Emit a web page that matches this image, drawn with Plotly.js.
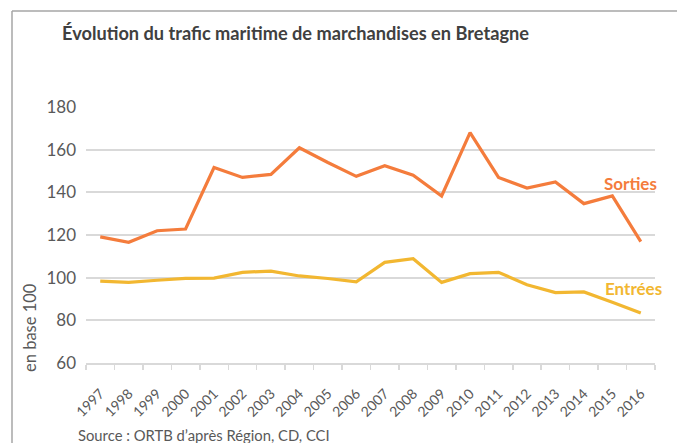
<!DOCTYPE html>
<html>
<head>
<meta charset="utf-8">
<script src="https://cdn.plot.ly/plotly-3.0.1.min.js"></script>
<style>
html,body{margin:0;padding:0;background:#fff;}
#chart{width:677px;height:443px;}
</style>
</head>
<body>
<div id="chart"></div>
<script>
const years = ['1997','1998','1999','2000','2001','2002','2003','2004','2005','2006','2007','2008','2009','2010','2011','2012','2013','2014','2015','2016'];
const sorties = [119.1,116.6,122.0,122.8,151.6,147.0,148.4,160.9,154.0,147.5,152.5,148.0,138.3,168.0,147.0,142.0,144.9,134.7,138.3,116.9];
const entrees = [98.4,97.8,98.8,99.7,99.8,102.5,103.1,100.8,99.6,98.1,107.2,108.9,97.8,101.9,102.5,96.7,93.0,93.3,88.5,83.4];
const yTicks = [60,80,100,120,140,160,180];

const W = 677, H = 443;
const L = 86, R = 22, T = 107, B = 80;
const pw = W - L - R, ph = H - T - B;
const px = x => (x - L) / pw;
const py = y => (H - B - y) / ph;

const font = 'Lato, "Open Sans", "DejaVu Sans", sans-serif';
const grey = '#595959';

const traces = [
  {x: years, y: sorties, type: 'scatter', mode: 'lines', name: 'Sorties',
   line: {color: '#F47C3C', width: 3.2}, hoverinfo: 'skip'},
  {x: years, y: entrees, type: 'scatter', mode: 'lines', name: 'Entrées',
   line: {color: '#F2B731', width: 3.2}, hoverinfo: 'skip'}
];

const layout = {
  width: W, height: H,
  margin: {l: L, r: R, t: T, b: B},
  paper_bgcolor: '#fff', plot_bgcolor: '#fff',
  showlegend: false,
  font: {family: font, color: grey},
  title: {text: '<b>Évolution du trafic maritime de marchandises en Bretagne</b>',
    x: 62 / W, xanchor: 'left', xref: 'container',
    y: 1 - 34 / H, yanchor: 'middle', yref: 'container',
    font: {family: font, size: 18.2, color: '#404040'}},
  xaxis: {type: 'category', range: [-0.5, 19.5], tickson: 'boundaries', ticks: 'outside', ticklen: 5,
    tickcolor: '#d9d9d9', tickwidth: 1.5, showline: true, linecolor: '#d9d9d9', linewidth: 2,
    showgrid: false, zeroline: false, tickangle: -45, ticklabelstandoff: 15,
    tickfont: {family: font, size: 14, color: grey}},
  yaxis: {range: [60, 180], tickvals: yTicks, showgrid: true, gridcolor: '#d9d9d9', gridwidth: 1.8,
    zeroline: false, showline: false, ticks: '', ticklabelstandoff: 9,
    tickfont: {family: font, size: 17, color: grey}},
  shapes: [
    {type: 'line', xref: 'paper', yref: 'paper', x0: px(12), x1: px(12), y0: py(11), y1: py(460),
     line: {color: '#a6a6a6', width: 1.5}},
    {type: 'line', xref: 'paper', yref: 'paper', x0: px(12), x1: px(690), y0: py(11), y1: py(11),
     line: {color: '#a6a6a6', width: 1.5}}
  ],
  annotations: [
    {text: 'en base 100', xref: 'paper', yref: 'paper', x: px(30), y: py(328),
     xanchor: 'center', yanchor: 'middle', textangle: -90, showarrow: false,
     font: {family: font, size: 16.5, color: grey}},
    {text: '<b>Sorties</b>', xref: 'paper', yref: 'paper', x: px(630), y: py(183),
     xanchor: 'center', yanchor: 'middle', showarrow: false,
     font: {family: font, size: 17, color: '#F47C3C'}},
    {text: '<b>Entrées</b>', xref: 'paper', yref: 'paper', x: px(633), y: py(288),
     xanchor: 'center', yanchor: 'middle', showarrow: false,
     font: {family: font, size: 17, color: '#F2B731'}},
    {text: 'Source : ORTB d’après Région, CD, CCI', xref: 'paper', yref: 'paper', x: px(76), y: py(435),
     xanchor: 'left', yanchor: 'middle', showarrow: false,
     font: {family: font, size: 14.8, color: grey}}
  ]
};

Plotly.newPlot('chart', traces, layout, {staticPlot: true, displayModeBar: false});
</script>
</body>
</html>
